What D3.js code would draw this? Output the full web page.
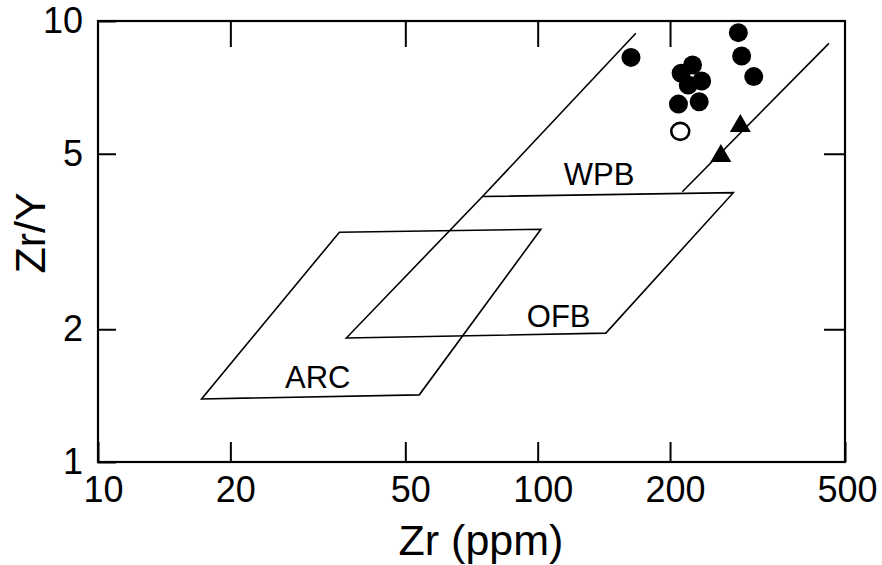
<!DOCTYPE html>
<html>
<head>
<meta charset="utf-8">
<script src="https://cdn.jsdelivr.net/npm/d3@7"></script>
<style>
  body { margin: 0; background: #fff; }
  svg text { font-family: "Liberation Sans", Arial, Helvetica, sans-serif; fill: #000; }
  .axis path { display: none; }
  .axis line { stroke: #000; stroke-width: 2; }
</style>
</head>
<body>
<div id="chart"></div>
<script>
// samples
const zrFilled = [163, 286, 291, 310, 225, 212, 236, 220, 209, 233];
const zrYFilled = [8.27, 9.41, 8.33, 7.48, 7.95, 7.61, 7.31, 7.16, 6.48, 6.56];
const zrOpen = [211];
const zrYOpen = [5.62];
const zrTri = [289, 261];
const zrYTri = [5.78, 4.94];

// discrimination fields
const arcZr = [17.2, 53.8, 101.7, 35.4];
const arcZrY = [1.39, 1.42, 3.37, 3.32];
const ofbZr = [36.7, 142.9, 278.6, 74.9];
const ofbZrY = [1.91, 1.96, 4.08, 4.0];
const wpbLeftZr = [74.9, 167.2];
const wpbLeftZrY = [4.0, 9.38];
const wpbRightZr = [213.3, 459.6];
const wpbRightZrY = [4.10, 8.90];

const fieldNames = ["WPB", "OFB", "ARC"];
const fieldLabelZr = [138, 111.6, 31.6];
const fieldLabelZrY = [4.25, 2.02, 1.47];

const xTicks = [10, 20, 50, 100, 200, 500];
const yTicks = [1, 2, 5, 10];

const width = 882, height = 565;
const svg = d3.select("#chart").append("svg")
  .attr("width", width)
  .attr("height", height);

const x = d3.scaleLog().domain([10, 500]).range([98, 845]);
const y = d3.scaleLog().domain([1, 10]).range([462, 21]);

let toPts = (xs, ys) => xs.map((v, i) => [x(v), y(ys[i])]);

// axes, ticks pointing inward
svg.append("g").attr("class", "axis")
  .attr("transform", "translate(0," + y(1) + ")")
  .call(d3.axisBottom(x).tickValues(xTicks).tickSize(-20).tickPadding(14).tickFormat(d3.format("d")))
  .selectAll("text")
  .style("font-size", "36px")
  .attr("dx", d => d == 500 ? 2 : 5);

svg.append("g").attr("class", "axis")
  .attr("transform", "translate(0," + y(10) + ")")
  .call(d3.axisTop(x).tickValues(xTicks.slice(1, -1)).tickSize(-26).tickFormat(""));

svg.append("g").attr("class", "axis")
  .attr("transform", "translate(" + x(10) + ",0)")
  .call(d3.axisLeft(y).tickValues(yTicks).tickSize(-18).tickPadding(15).tickFormat(d3.format("d")))
  .selectAll("text")
  .style("font-size", "36px");

svg.append("g").attr("class", "axis")
  .attr("transform", "translate(" + x(500) + ",0)")
  .call(d3.axisRight(y).tickValues(yTicks.slice(1, -1)).tickSize(-21).tickFormat(""));

// frame
svg.append("rect")
  .attr("x", x(10))
  .attr("y", y(10))
  .attr("width", x(500) - x(10))
  .attr("height", y(1) - y(10))
  .attr("fill", "none")
  .attr("stroke", "#000")
  .attr("stroke-width", 2.2);

// axis titles
svg.append("text")
  .attr("x", 481)
  .attr("y", 555)
  .attr("text-anchor", "middle")
  .style("font-size", "43px")
  .text("Zr (ppm)");

svg.append("text")
  .attr("transform", "translate(45,233) rotate(-90)")
  .attr("text-anchor", "middle")
  .style("font-size", "43px")
  .text("Zr/Y");

// fields
let fields = svg.append("g")
  .attr("fill", "none")
  .attr("stroke", "#000")
  .attr("stroke-width", 1.6);

fields.append("path").attr("d", d3.line()(toPts(arcZr, arcZrY)) + "Z");
fields.append("path").attr("d", d3.line()(toPts(ofbZr, ofbZrY)) + "Z");
fields.append("path").attr("d", d3.line()(toPts(wpbLeftZr, wpbLeftZrY)));
fields.append("path").attr("d", d3.line()(toPts(wpbRightZr, wpbRightZrY)));

svg.selectAll(".fieldLabel")
  .data(fieldNames)
  .enter()
  .append("text")
  .attr("class", "fieldLabel")
  .attr("x", (d, i) => x(fieldLabelZr[i]))
  .attr("y", (d, i) => y(fieldLabelZrY[i]))
  .attr("text-anchor", "middle")
  .style("font-size", "31px")
  .text(d => d);

// points
svg.selectAll(".filled")
  .data(zrFilled)
  .enter()
  .append("circle")
  .attr("class", "filled")
  .attr("cx", d => x(d))
  .attr("cy", (d, i) => y(zrYFilled[i]))
  .attr("r", 9.5)
  .attr("fill", "#000");

svg.selectAll(".open")
  .data(zrOpen)
  .enter()
  .append("ellipse")
  .attr("class", "open")
  .attr("cx", d => x(d))
  .attr("cy", (d, i) => y(zrYOpen[i]))
  .attr("rx", 9)
  .attr("ry", 8.5)
  .attr("fill", "none")
  .attr("stroke", "#000")
  .attr("stroke-width", 2.6);

svg.selectAll(".tri")
  .data(zrTri)
  .enter()
  .append("path")
  .attr("class", "tri")
  .attr("transform", (d, i) => "translate(" + x(d) + "," + y(zrYTri[i]) + ")")
  .attr("d", d3.symbol().type(d3.symbolTriangle).size(190))
  .attr("fill", "#000");
</script>
</body>
</html>
